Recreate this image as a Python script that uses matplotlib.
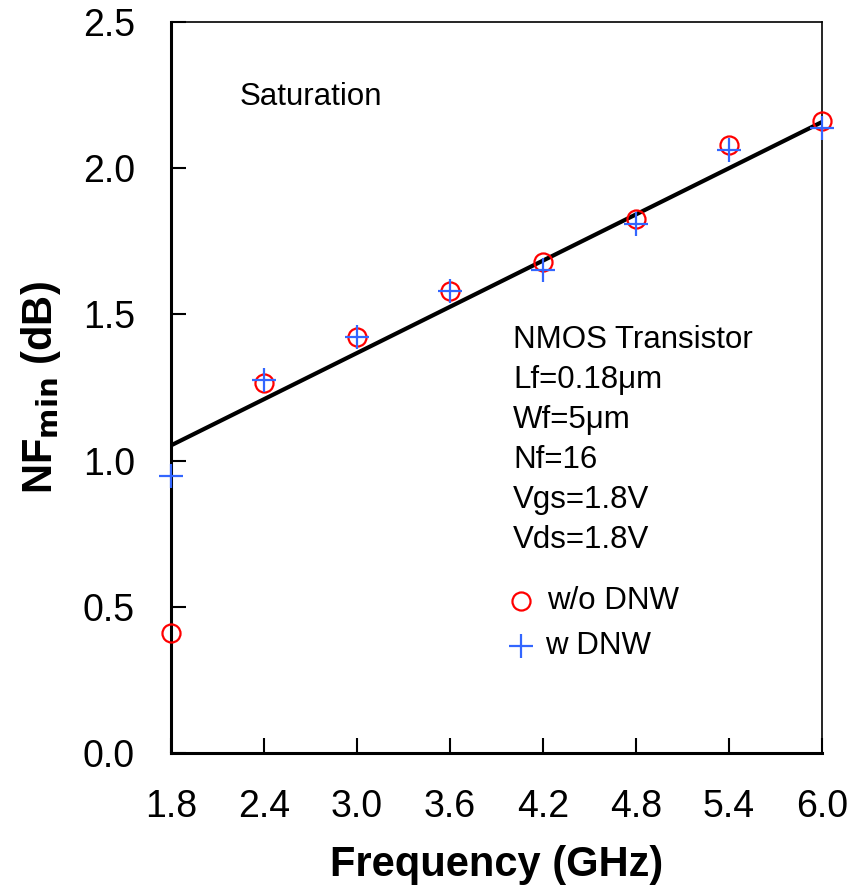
import matplotlib
matplotlib.use("Agg")
import matplotlib.pyplot as plt
import numpy as np

plt.rcParams['font.family'] = ['Liberation Sans', 'DejaVu Sans']

freq = [1.8, 2.4, 3.0, 3.6, 4.2, 4.8, 5.4, 6.0]
nf_wo_dnw = [0.41, 1.267, 1.424, 1.581, 1.68, 1.827, 2.08, 2.162]
nf_w_dnw = [0.946, 1.277, 1.424, 1.58, 1.653, 1.81, 2.063, 2.138]
fit_freq = [1.8, 6.0]
fit_nf = [1.052, 2.158]

xticks = [1.8, 2.4, 3.0, 3.6, 4.2, 4.8, 5.4, 6.0]
yticks = [0.0, 0.5, 1.0, 1.5, 2.0, 2.5]

W, H = 863, 892
fig = plt.figure(figsize=(W / 100, H / 100), dpi=100)
ax = fig.add_axes([171 / W, 1 - 753 / H, (822 - 171) / W, (753 - 22) / H])

def px(x, y):
    # pixel position (from top-left) -> figure fraction
    return x / W, 1 - y / H

ax.plot(fit_freq, fit_nf, color='black', lw=3, zorder=2)
ax.plot(freq, nf_wo_dnw, 'o', ms=13, mfc='none', mec='red', mew=1.6,
        clip_on=False, zorder=3)
ax.plot(freq, nf_w_dnw, '+', ms=17, mec='#3366ff', mew=1.6,
        clip_on=False, zorder=4)

ax.set_xlim(1.8, 6.0)
ax.set_ylim(0, 2.5)
ax.set_xticks(xticks)
ax.set_xticklabels([f"{v:.1f}" for v in xticks])
ax.set_yticks(yticks)
ax.set_yticklabels([f"{v:.1f}" for v in yticks])
ax.tick_params(direction='in', length=11, width=1.5, labelsize=27,
               top=False, right=False)
ax.tick_params(axis='x', pad=26)
ax.tick_params(axis='y', pad=26)

for s in ['left', 'bottom']:
    ax.spines[s].set_linewidth(2.2)
for s in ['top', 'right']:
    ax.spines[s].set_linewidth(1.2)

ax.set_xlabel("Frequency (GHz)", fontsize=30, fontweight='bold', labelpad=14)
ax.set_ylabel(r"NF$_{\mathbf{min}}$ (dB)", fontsize=30, fontweight='bold', labelpad=14)

fig.text(*px(240, 97), "Saturation", fontsize=22.5, va='center')

info = ["NMOS Transistor", "Lf=0.18\u03bcm", "Wf=5\u03bcm", "Nf=16",
        "Vgs=1.8V", "Vds=1.8V"]
for i, line in enumerate(info):
    fig.text(*px(513, 340 + 40 * i), line, fontsize=22.5, va='center')

# legend drawn by hand inside the axes
fig.lines.append(plt.Line2D([521 / W], [1 - 601 / H], marker='o', ms=13,
                            mfc='none', mec='red', mew=1.6, ls='none',
                            transform=fig.transFigure))
fig.text(*px(547, 601), "w/o DNW", fontsize=22.5, va='center')
fig.lines.append(plt.Line2D([521 / W], [1 - 646 / H], marker='+', ms=17,
                            mec='#3366ff', mew=1.6, ls='none',
                            transform=fig.transFigure))
fig.text(*px(545, 646), "w DNW", fontsize=22.5, va='center')

fig.savefig("out.png", dpi=100)
